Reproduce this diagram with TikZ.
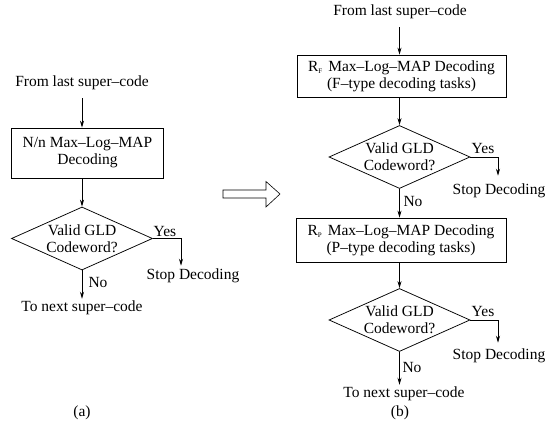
\documentclass[tikz,border=0pt]{standalone}
\usepackage{fontspec}
\setmainfont{Liberation Serif}
\usetikzlibrary{arrows.meta,shapes.geometric}

\newcommand{\subl}[1]{\raisebox{-0.3ex}{\fontsize{7}{7}\selectfont #1}}

\begin{document}
\begin{tikzpicture}[x=1pt,y=-1pt,
  every node/.style={font=\fontsize{15.5}{17}\selectfont, inner sep=2pt},
  flowline/.style={line width=0.75pt},
  flowarrow/.style={flowline,-{Stealth[length=7pt,width=4pt]}},
  procbox/.style={draw,line width=0.75pt,rectangle,align=center,inner sep=0pt},
  decision/.style={draw,line width=0.75pt,diamond,inner sep=0pt,
    shape aspect=2.25,minimum width=141pt,minimum height=63pt},
  txt/.style={align=center}]

\useasboundingbox (0,0) rectangle (552,430);

% ---------- (a) single-stage decoding ----------
\node[txt] (fromA) at (82,83) {From last super–code};
\node[procbox,minimum width=152pt,minimum height=50pt] (boxA) at (87.5,153)
  {N/n Max–Log–MAP\\Decoding};
\node[decision,label={[align=center,font=\fontsize{15.5}{17}\selectfont]center:Valid GLD\\Codeword?}]
  (diaA) at (82,238.5) {};
\node[txt] (yesA) at (165,232) {Yes};
\coordinate (cornerA) at (181,238.5);
\node[txt] (stopA) at (193,276) {Stop Decoding};
\node[txt] (noA) at (98,283) {No};
\node[txt] (nextA) at (82,308) {To next super–code};
\node[txt] (capA) at (82,413) {(a)};

\draw[flowarrow,shorten <=6pt] (fromA.south -| boxA.north -| diaA) -- (diaA |- boxA.north);
\draw[flowarrow] (diaA |- boxA.south) -- (diaA.north);
\draw[flowarrow,shorten >=1pt] (diaA.east) -- (cornerA) -- (cornerA |- stopA.north);
\draw[flowarrow] (diaA.south) -- (nextA.north);

% ---------- hollow transition arrow ----------
\draw[line width=0.6pt] (223,190) -- (266,190) -- (266,181.5) -- (280,194)
  -- (266,207) -- (266,198) -- (223,198) -- cycle;

% ---------- (b) two-stage decoding ----------
\node[txt] (fromB) at (400,12) {From last super–code};
\node[procbox,minimum width=209pt,minimum height=42pt] (boxB1) at (401.5,76)
  {R\subl{F}\hspace{6pt}Max–Log–MAP Decoding\\(F–type decoding tasks)};
\node[decision,label={[align=center,font=\fontsize{15.5}{17}\selectfont]center:Valid GLD\\Codeword?}]
  (diaB1) at (399.5,157) {};
\node[txt] (yesB1) at (483,149) {Yes};
\coordinate (cornerB1) at (498,157);
\node[txt] (stopB1) at (499,191) {Stop Decoding};
\node[txt] (noB1) at (413,202) {No};

\node[procbox,minimum width=210pt,minimum height=44pt] (boxB2) at (401,240)
  {R\subl{P}\hspace{6pt}Max–Log–MAP Decoding\\(P–type decoding tasks)};
\node[decision,label={[align=center,font=\fontsize{15.5}{17}\selectfont]center:Valid GLD\\Codeword?}]
  (diaB2) at (399.5,320) {};
\node[txt] (yesB2) at (483,312) {Yes};
\coordinate (cornerB2) at (498,320);
\node[txt] (stopB2) at (499,356) {Stop Decoding};
\node[txt] (noB2) at (412,368) {No};
\node[txt] (nextB) at (404,394) {To next super–code};
\node[txt] (capB) at (400,413) {(b)};

\draw[flowarrow,shorten <=6pt] (diaB1 |- fromB.south) -- (diaB1 |- boxB1.north);
\draw[flowarrow] (diaB1 |- boxB1.south) -- (diaB1.north);
\draw[flowarrow,shorten >=6pt] (diaB1.east) -- (cornerB1) -- (cornerB1 |- stopB1.north);
\draw[flowarrow] (diaB1.south) -- (diaB1 |- boxB2.north);
\draw[flowarrow] (diaB2 |- boxB2.south) -- (diaB2.north);
\draw[flowarrow,shorten >=4pt] (diaB2.east) -- (cornerB2) -- (cornerB2 |- stopB2.north);
\draw[flowarrow] (diaB2.south) -- (diaB2 |- nextB.north);

\end{tikzpicture}
\end{document}
